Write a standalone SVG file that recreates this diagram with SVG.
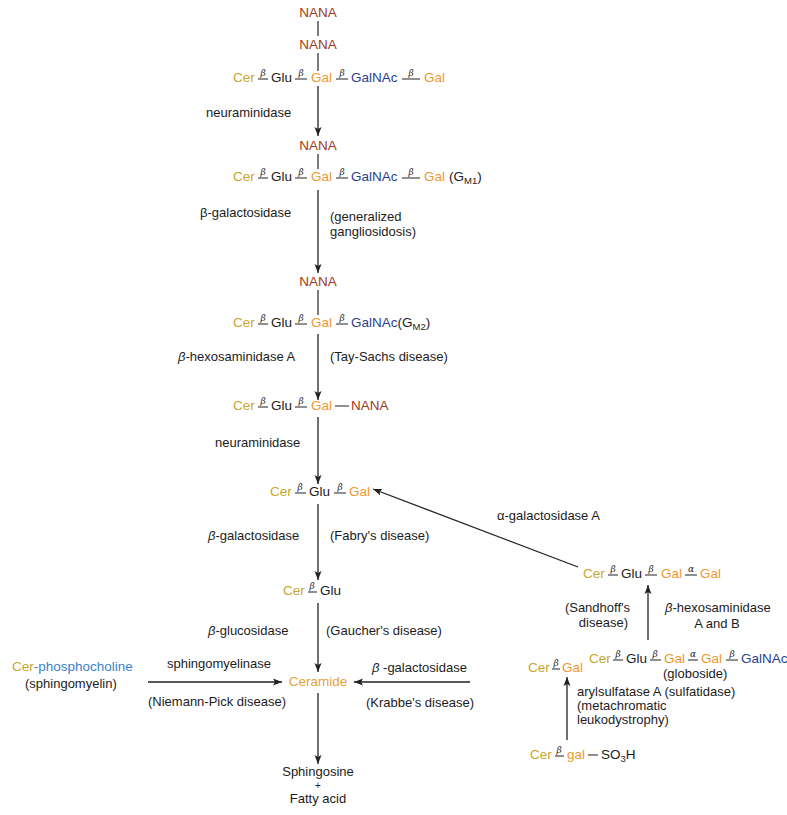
<svg xmlns="http://www.w3.org/2000/svg" width="787" height="815" viewBox="0 0 787 815">
<style>
text{font-family:"Liberation Sans",Arial,sans-serif;font-size:13px;fill:#1c1c1c}
.c{font-size:13.5px}
.cer{fill:#c8a630}
.gal{fill:#f0982f}
.nana{fill:#9e3a22}
.gn{fill:#2c3e8e}
.blue{fill:#3a82c8}
.ceramide{fill:#e2a23c}
.k{fill:#1c1c1c}
.m{text-anchor:middle}
.e{text-anchor:end}
.b{font-family:"DejaVu Serif",serif;font-style:italic;font-size:9px;text-anchor:middle}
.i{font-style:italic}
.sub{font-size:9.5px}
.bond{stroke:#222;stroke-width:1}
.ln{stroke:#222;stroke-width:1.2}
.arr{stroke:#222;stroke-width:1.3;fill:none;marker-end:url(#ah)}
</style>
<defs>
<marker id="ah" markerUnits="userSpaceOnUse" markerWidth="10" markerHeight="8" refX="9" refY="4" orient="auto">
<path d="M0,0.5 L9,4 L0,7.5 L2,4 z" fill="#222"/>
</marker>
</defs>
<rect width="787" height="815" fill="#fff"/>

<g id="gd1a">
<text class="c nana m" x="318" y="17">NANA</text>
<line class="ln" x1="318" y1="21" x2="318" y2="36"/>
<text class="c nana m" x="318" y="49">NANA</text>
<line class="ln" x1="318" y1="53" x2="318" y2="71"/>
<text class="c cer" x="233" y="82">Cer</text>
<line class="bond" x1="258" y1="79" x2="268" y2="79"/><text class="b" x="263" y="76">β</text>
<text class="c" x="271" y="82">Glu</text>
<line class="bond" x1="295" y1="79" x2="307" y2="79"/><text class="b" x="301" y="76">β</text>
<text class="c gal" x="311" y="82">Gal</text>
<line class="bond" x1="336" y1="79" x2="348" y2="79"/><text class="b" x="342" y="76">β</text>
<text class="c gn" x="351" y="82">GalNAc</text>
<line class="bond" x1="402" y1="79" x2="420" y2="79"/><text class="b" x="411" y="76">β</text>
<text class="c gal" x="424" y="82">Gal</text>
</g>

<g id="gm1">
<text class="c nana m" x="318" y="150">NANA</text>
<line class="ln" x1="318" y1="154" x2="318" y2="169"/>
<text class="c cer" x="233" y="181">Cer</text>
<line class="bond" x1="258" y1="178" x2="268" y2="178"/><text class="b" x="263" y="175">β</text>
<text class="c" x="271" y="181">Glu</text>
<line class="bond" x1="295" y1="178" x2="307" y2="178"/><text class="b" x="301" y="175">β</text>
<text class="c gal" x="311" y="181">Gal</text>
<line class="bond" x1="336" y1="178" x2="348" y2="178"/><text class="b" x="342" y="175">β</text>
<text class="c gn" x="351" y="181">GalNAc</text>
<line class="bond" x1="402" y1="178" x2="420" y2="178"/><text class="b" x="411" y="175">β</text>
<text class="c gal" x="424" y="181">Gal</text>
<text class="c" x="449" y="181">(G<tspan class="sub" dy="3">M1</tspan><tspan dy="-3">)</tspan></text>
</g>

<g id="gm2">
<text class="c nana m" x="318" y="286">NANA</text>
<line class="ln" x1="318" y1="290" x2="318" y2="315"/>
<text class="c cer" x="233" y="327">Cer</text>
<line class="bond" x1="258" y1="324" x2="268" y2="324"/><text class="b" x="263" y="321">β</text>
<text class="c" x="271" y="327">Glu</text>
<line class="bond" x1="295" y1="324" x2="307" y2="324"/><text class="b" x="301" y="321">β</text>
<text class="c gal" x="311" y="327">Gal</text>
<line class="bond" x1="336" y1="324" x2="348" y2="324"/><text class="b" x="342" y="321">β</text>
<text class="c gn" x="351" y="327">GalNAc<tspan class="k">(G</tspan><tspan class="sub k" dy="3">M2</tspan><tspan class="k" dy="-3">)</tspan></text>
</g>

<g id="gm3">
<text class="c cer" x="233" y="410">Cer</text>
<line class="bond" x1="258" y1="407" x2="268" y2="407"/><text class="b" x="263" y="404">β</text>
<text class="c" x="271" y="410">Glu</text>
<line class="bond" x1="295" y1="407" x2="307" y2="407"/><text class="b" x="301" y="404">β</text>
<text class="c gal" x="311" y="410">Gal</text>
<line class="bond" x1="335" y1="406" x2="349" y2="406"/>
<text class="c nana" x="351" y="410">NANA</text>
</g>

<g id="lactosylceramide">
<text class="c cer" x="270" y="496">Cer</text>
<line class="bond" x1="295" y1="493" x2="306" y2="493"/><text class="b" x="300" y="490">β</text>
<text class="c" x="309" y="496">Glu</text>
<line class="bond" x1="334" y1="493" x2="346" y2="493"/><text class="b" x="340" y="490">β</text>
<text class="c gal" x="349" y="496">Gal</text>
</g>

<g id="glucosylceramide">
<text class="c cer" x="283" y="595">Cer</text>
<line class="bond" x1="308" y1="592" x2="317" y2="592"/><text class="b" x="312" y="589">β</text>
<text class="c" x="320" y="595">Glu</text>
</g>

<g id="ceramide">
<text class="c m ceramide" x="318" y="686">Ceramide</text>
</g>

<g id="products">
<text class="m" x="318" y="776">Sphingosine</text>
<text class="m" x="318" y="789" style="font-size:10px">+</text>
<text class="m" x="318" y="803">Fatty acid</text>
</g>

<g id="sphingomyelin">
<text class="c" x="12" y="671"><tspan class="cer">Cer</tspan><tspan class="blue">-phosphocholine</tspan></text>
<text x="25" y="688">(sphingomyelin)</text>
</g>

<g id="trihexoside">
<text class="c cer" x="583" y="578">Cer</text>
<line class="bond" x1="608" y1="575" x2="618" y2="575"/><text class="b" x="613" y="572">β</text>
<text class="c" x="621" y="578">Glu</text>
<line class="bond" x1="645" y1="575" x2="657" y2="575"/><text class="b" x="651" y="572">β</text>
<text class="c gal" x="661" y="578">Gal</text>
<line class="bond" x1="685" y1="575" x2="697" y2="575"/><text class="b" x="691" y="572">α</text>
<text class="c gal" x="700" y="578">Gal</text>
</g>

<g id="globoside">
<text class="c cer" x="589" y="663">Cer</text>
<line class="bond" x1="613" y1="660" x2="623" y2="660"/><text class="b" x="618" y="657">β</text>
<text class="c" x="626" y="663">Glu</text>
<line class="bond" x1="650" y1="660" x2="661" y2="660"/><text class="b" x="655" y="657">β</text>
<text class="c gal" x="664" y="663">Gal</text>
<line class="bond" x1="688" y1="660" x2="698" y2="660"/><text class="b" x="693" y="657">α</text>
<text class="c gal" x="701" y="663">Gal</text>
<line class="bond" x1="726" y1="660" x2="738" y2="660"/><text class="b" x="732" y="657">β</text>
<text class="c gn" x="741" y="663">GalNAc</text>
<text x="663" y="678">(globoside)</text>
</g>

<g id="galactosylceramide">
<text class="c cer" x="528" y="672">Cer</text>
<line class="bond" x1="552" y1="669" x2="560" y2="669"/><text class="b" x="556" y="666">β</text>
<text class="c gal" x="562" y="672">Gal</text>
</g>

<g id="sulfatide">
<text class="c cer" x="530" y="759">Cer</text>
<line class="bond" x1="555" y1="756" x2="564" y2="756"/><text class="b" x="559" y="753">β</text>
<text class="c gal" x="567" y="759">gal</text>
<line class="bond" x1="588" y1="755" x2="598" y2="755"/>
<text class="c" x="601" y="759">SO<tspan class="sub" dy="3">3</tspan><tspan dy="-3">H</tspan></text>
</g>

<g id="connectors">
<line class="arr" x1="318" y1="86" x2="318" y2="136"/>
<line class="arr" x1="318" y1="190" x2="318" y2="273"/>
<line class="arr" x1="318" y1="334" x2="318" y2="400"/>
<line class="arr" x1="318" y1="417" x2="318" y2="484"/>
<line class="arr" x1="318" y1="504" x2="318" y2="580"/>
<line class="arr" x1="318" y1="603" x2="318" y2="672"/>
<line class="arr" x1="318" y1="693" x2="318" y2="764"/>
<line class="arr" x1="148" y1="682" x2="282" y2="682"/>
<line class="arr" x1="470" y1="682" x2="354" y2="682"/>
<line class="arr" x1="578" y1="567" x2="373" y2="489"/>
<line class="arr" x1="648" y1="640" x2="648" y2="585"/>
<line class="arr" x1="567" y1="740" x2="567" y2="677"/>
</g>

<g id="labels">
<text x="206" y="117">neuraminidase</text>
<text x="200" y="217">β-galactosidase</text>
<text x="330" y="221">(generalized</text>
<text x="330" y="236">gangliosidosis)</text>
<text x="178" y="361"><tspan class="i">β</tspan>-hexosaminidase A</text>
<text x="330" y="361">(Tay-Sachs disease)</text>
<text x="215" y="447">neuraminidase</text>
<text x="208" y="540"><tspan class="i">β</tspan>-galactosidase</text>
<text x="330" y="540">(Fabry's disease)</text>
<text x="208" y="635"><tspan class="i">β</tspan>-glucosidase</text>
<text x="326" y="635">(Gaucher's disease)</text>
<text x="167" y="668">sphingomyelinase</text>
<text x="148" y="706">(Niemann-Pick disease)</text>
<text x="372" y="672"><tspan class="i">β</tspan> -galactosidase</text>
<text x="366" y="707">(Krabbe's disease)</text>
<text x="497" y="520">α-galactosidase A</text>
<text class="e" x="630" y="612">(Sandhoff's</text>
<text class="e" x="628" y="627">disease)</text>
<text x="665" y="612"><tspan class="i">β</tspan>-hexosaminidase</text>
<text class="m" x="717" y="628">A and B</text>
<text x="577" y="696">arylsulfatase A (sulfatidase)</text>
<text x="577" y="710">(metachromatic</text>
<text x="577" y="724">leukodystrophy)</text>
</g>
</svg>
